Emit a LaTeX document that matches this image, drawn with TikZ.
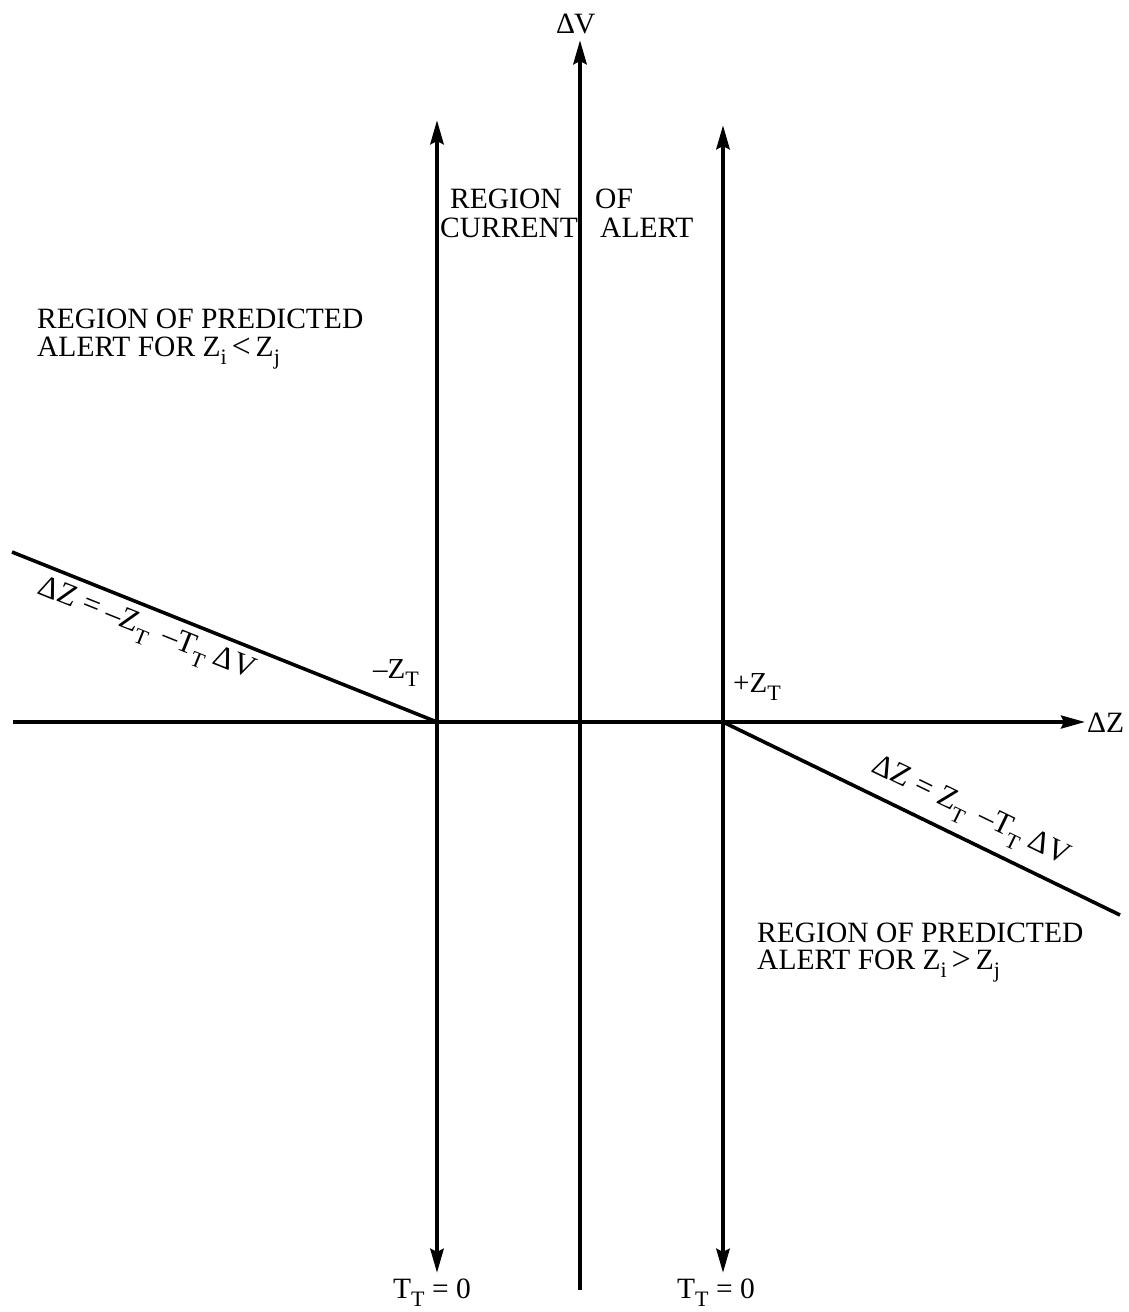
\documentclass[tikz,border=0pt]{standalone}
\usepackage{fontspec}
\setmainfont{Liberation Serif}
\usetikzlibrary{arrows.meta}
\newcommand{\sbs}[1]{\raisebox{-0.3em}{\fontsize{22}{22}\selectfont #1}}
\newcommand{\bigrel}[1]{\raisebox{-0.05em}{\fontsize{34}{34}\selectfont #1}}
\begin{document}
\begin{tikzpicture}[x=1pt,y=-1pt,
  tip/.style={-{Stealth[length=24pt,width=13pt,inset=3pt]}},
  bothtip/.style={{Stealth[length=24pt,width=13pt,inset=3pt]}-{Stealth[length=24pt,width=13pt,inset=3pt]}},
  vline/.style={line width=4.5pt},
  hline/.style={line width=3.6pt},
  lbl/.style={inner sep=0pt, font=\fontsize{29.5}{34}\selectfont},
  zlbl/.style={inner sep=0pt, font=\fontsize{29}{34}\selectfont},
  eqlbl/.style={inner sep=0pt, font=\fontsize{31}{36}\selectfont}]
\useasboundingbox (0,0) rectangle (1129,1312);
% coordinates
\coordinate (Hl) at (13,722);
\coordinate (Hr) at (1085,722);
\coordinate (O) at (580,722);
\coordinate (Ltop) at (437,120);
\coordinate (Lbot) at (437,1273);
\coordinate (Rtop) at (723,125);
\coordinate (Rbot) at (723,1273);
\coordinate (Ctop) at (580,40);
\coordinate (Cbot) at (580,1290);
\coordinate (L0) at (437,722);
\coordinate (R0) at (723,722);
\coordinate (DLs) at (12,552);
\coordinate (DRe) at (1120,915);
% axes and lines
\draw[hline,tip] (Hl) -- (Hr);
\draw[vline,tip] (Cbot) -- (Ctop);
\draw[vline,bothtip] (Lbot) -- (Ltop);
\draw[vline,bothtip] (Rbot) -- (Rtop);
\draw[hline] (DLs) -- (L0);
\draw[hline] (R0) -- (DRe);
% labels
\node[lbl,anchor=base west] (dv) at (556,33) {Δ\kern-1pt V};
\node[lbl,anchor=west] (dz) at (1087,723) {ΔZ};
\node[lbl,anchor=base west] (tl) at (393,1298) {T\sbs{T} = 0};
\node[lbl,anchor=base west] (tr) at (677,1298) {T\sbs{T} = 0};
\node[zlbl,anchor=base west] (mz) at (373,678) {–Z\sbs{T}};
\node[zlbl,anchor=base west] (pz) at (733,692) {+Z\sbs{T}};
\node[lbl,anchor=base west] (rc1) at (450,208) {REGION};
\node[lbl,anchor=base west] (rc2) at (595,208) {OF};
\node[lbl,anchor=base west] (rc3) at (440,237) {CURRENT};
\node[lbl,anchor=base west] (rc4) at (600,237) {ALERT};
\node[lbl,anchor=base west] (pl1) at (37,328) {REGION OF PREDICTED};
\node[lbl,anchor=base west] (pl2) at (37,356) {ALERT FOR Z\sbs{i}\,\bigrel{<}\,Z\sbs{j}};
\node[lbl,anchor=base west] (pr1) at (757,942) {REGION OF PREDICTED};
\node[lbl,anchor=base west] (pr2) at (757,969) {ALERT FOR Z\sbs{i}\,\bigrel{>}\,Z\sbs{j}};
\node[eqlbl,rotate=-21.8] (eql) at (146,631) {ΔZ = –Z\sbs{T} \,–T\sbs{T} ΔV};
\node[eqlbl,rotate=-25.9] (eqr) at (970,813) {ΔZ = Z\sbs{T} \,–T\sbs{T} ΔV};
\end{tikzpicture}
\end{document}
